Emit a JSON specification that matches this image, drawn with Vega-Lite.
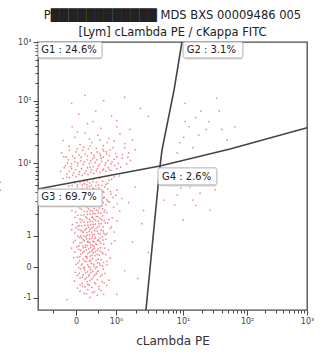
{
  "$schema": "https://vega.github.io/schema/vega-lite/v6.json",
  "width": 269,
  "height": 268,
  "autosize": {"type": "none"},
  "padding": {"left": 38, "top": 42, "right": 16, "bottom": 48},
  "background": "white",
  "config": {"font": "DejaVu Sans", "view": {"stroke": "#4a4a4a", "strokeWidth": 1.3}},
  "title": {"text": ["P████████████ MDS BXS 00009486 005", "[Lym] cLambda PE / cKappa FITC"], "fontSize": 11.5, "fontWeight": "normal", "color": "#222", "lineHeight": 17, "offset": 0, "anchor": "middle", "font": "DejaVu Sans"},
  "datasets": {
    "events": [
      {"x":198,"y":48},{"x":226,"y":56},{"x":176,"y":64},{"x":215,"y":70},{"x":240,"y":74},{"x":190,"y":78},{"x":160,"y":72},{"x":250,"y":60},
      {"x":150,"y":84},{"x":178,"y":88},{"x":205,"y":86},{"x":232,"y":90},{"x":262,"y":94},{"x":190,"y":98},{"x":168,"y":102},{"x":215,"y":104},{"x":244,"y":108},{"x":139,"y":110},{"x":198,"y":112},{"x":226,"y":116},{"x":180,"y":118},{"x":270,"y":114},
      {"x":160,"y":122},{"x":185,"y":124},{"x":210,"y":126},{"x":238,"y":128},{"x":150,"y":132},{"x":172,"y":134},{"x":196,"y":136},{"x":222,"y":138},{"x":255,"y":140},{"x":142,"y":144},{"x":188,"y":146},{"x":208,"y":148},{"x":230,"y":150},{"x":178,"y":152},{"x":200,"y":154},{"x":248,"y":156},{"x":162,"y":158},{"x":219,"y":160},
      {"x":155,"y":162},{"x":176,"y":164},{"x":192,"y":166},{"x":214,"y":168},{"x":236,"y":170},{"x":262,"y":172},{"x":145,"y":174},{"x":168,"y":176},{"x":203,"y":178},{"x":227,"y":180},{"x":250,"y":182},{"x":184,"y":184},{"x":196,"y":186},{"x":158,"y":188},{"x":221,"y":190},{"x":240,"y":192},{"x":172,"y":194},{"x":208,"y":196},{"x":275,"y":198},{"x":136,"y":200},
      {"x":150,"y":202},{"x":181,"y":204},{"x":199,"y":206},{"x":217,"y":208},{"x":233,"y":210},{"x":258,"y":212},{"x":163,"y":214},{"x":190,"y":216},{"x":210,"y":218},{"x":244,"y":220},{"x":140,"y":222},{"x":176,"y":224},{"x":205,"y":226},{"x":226,"y":228},{"x":268,"y":230},{"x":155,"y":232},{"x":193,"y":234},{"x":215,"y":236},{"x":238,"y":238},{"x":182,"y":240},{"x":128,"y":236},{"x":201,"y":239},
      {"x":148,"y":242},{"x":170,"y":244},{"x":188,"y":246},{"x":207,"y":248},{"x":224,"y":250},{"x":250,"y":252},{"x":280,"y":254},{"x":160,"y":256},{"x":197,"y":258},{"x":214,"y":260},{"x":235,"y":262},{"x":176,"y":264},{"x":142,"y":266},{"x":229,"y":268},{"x":258,"y":270},{"x":185,"y":272},{"x":203,"y":274},{"x":166,"y":276},{"x":219,"y":278},{"x":245,"y":280},{"x":135,"y":258},{"x":292,"y":264},{"x":190,"y":262},{"x":212,"y":244},
      {"x":152,"y":282},{"x":174,"y":284},{"x":196,"y":286},{"x":215,"y":288},{"x":237,"y":290},{"x":262,"y":292},{"x":140,"y":294},{"x":186,"y":296},{"x":205,"y":298},{"x":226,"y":300},{"x":248,"y":302},{"x":163,"y":304},{"x":180,"y":306},{"x":199,"y":308},{"x":221,"y":310},{"x":275,"y":312},{"x":145,"y":314},{"x":192,"y":316},{"x":210,"y":318},{"x":233,"y":320},{"x":170,"y":300},{"x":256,"y":288},{"x":128,"y":306},{"x":290,"y":298},
      {"x":157,"y":322},{"x":178,"y":324},{"x":200,"y":326},{"x":218,"y":328},{"x":240,"y":330},{"x":265,"y":332},{"x":148,"y":334},{"x":189,"y":336},{"x":208,"y":338},{"x":229,"y":340},{"x":252,"y":342},{"x":169,"y":344},{"x":196,"y":346},{"x":213,"y":348},{"x":236,"y":350},{"x":283,"y":352},{"x":140,"y":354},{"x":182,"y":356},{"x":222,"y":358},{"x":246,"y":360},{"x":162,"y":336},{"x":301,"y":340},{"x":205,"y":355},{"x":131,"y":326},
      {"x":152,"y":362},{"x":175,"y":364},{"x":198,"y":366},{"x":217,"y":368},{"x":239,"y":370},{"x":262,"y":372},{"x":143,"y":374},{"x":187,"y":376},{"x":208,"y":378},{"x":228,"y":380},{"x":255,"y":382},{"x":166,"y":384},{"x":193,"y":386},{"x":214,"y":388},{"x":234,"y":390},{"x":288,"y":392},{"x":157,"y":394},{"x":202,"y":396},{"x":244,"y":398},{"x":178,"y":400},{"x":129,"y":380},{"x":311,"y":378},
      {"x":161,"y":402},{"x":184,"y":404},{"x":205,"y":406},{"x":224,"y":408},{"x":248,"y":410},{"x":272,"y":412},{"x":146,"y":414},{"x":195,"y":416},{"x":216,"y":418},{"x":238,"y":420},{"x":262,"y":422},{"x":174,"y":424},{"x":200,"y":426},{"x":228,"y":428},{"x":252,"y":430},{"x":135,"y":432},{"x":188,"y":434},{"x":212,"y":436},{"x":296,"y":438},{"x":166,"y":440},{"x":242,"y":416},{"x":320,"y":426},
      {"x":156,"y":442},{"x":182,"y":444},{"x":204,"y":446},{"x":226,"y":448},{"x":250,"y":450},{"x":276,"y":452},{"x":142,"y":454},{"x":194,"y":456},{"x":218,"y":458},{"x":240,"y":460},{"x":265,"y":462},{"x":170,"y":464},{"x":209,"y":466},{"x":232,"y":468},{"x":300,"y":458},{"x":128,"y":448},{"x":188,"y":470},{"x":254,"y":470},
      {"x":150,"y":478},{"x":176,"y":482},{"x":198,"y":486},{"x":222,"y":488},{"x":246,"y":492},{"x":270,"y":496},{"x":160,"y":488},{"x":188,"y":492},{"x":212,"y":500},{"x":235,"y":504},{"x":290,"y":508},{"x":140,"y":486},{"x":204,"y":476},{"x":258,"y":480},{"x":118,"y":474},{"x":230,"y":478},{"x":175,"y":490},{"x":310,"y":512},
      {"x":330,"y":150},{"x":360,"y":260},{"x":395,"y":330},{"x":345,"y":410},{"x":420,"y":220},{"x":380,"y":120},{"x":110,"y":40},{"x":300,"y":60},{"x":370,"y":470},{"x":402,"y":380},
      {"x":185,"y":62},{"x":208,"y":66},{"x":232,"y":80},{"x":170,"y":92},{"x":195,"y":95},{"x":220,"y":100},{"x":252,"y":104},{"x":160,"y":96},{"x":204,"y":118},{"x":187,"y":108},
      {"x":168,"y":126},{"x":193,"y":130},{"x":216,"y":133},{"x":244,"y":135},{"x":157,"y":140},{"x":181,"y":142},{"x":202,"y":144},{"x":226,"y":146},{"x":175,"y":160},{"x":198,"y":163},{"x":224,"y":165},{"x":246,"y":168},{"x":165,"y":171},{"x":189,"y":173},{"x":212,"y":175},{"x":235,"y":177},{"x":152,"y":180},{"x":177,"y":187},{"x":200,"y":190},{"x":229,"y":194},{"x":262,"y":186},{"x":186,"y":198},
      {"x":159,"y":203},{"x":186,"y":205},{"x":206,"y":209},{"x":226,"y":212},{"x":247,"y":215},{"x":170,"y":218},{"x":197,"y":221},{"x":218,"y":223},{"x":236,"y":225},{"x":162,"y":228},{"x":184,"y":230},{"x":209,"y":232},{"x":230,"y":234},{"x":253,"y":236},{"x":174,"y":238},{"x":156,"y":245},{"x":180,"y":248},{"x":200,"y":250},{"x":220,"y":252},{"x":240,"y":255},{"x":167,"y":258},{"x":190,"y":260},{"x":209,"y":263},{"x":227,"y":265},{"x":248,"y":267},{"x":173,"y":269},{"x":196,"y":271},{"x":216,"y":273},{"x":236,"y":275},{"x":158,"y":277},{"x":182,"y":279},{"x":207,"y":281},
      {"x":163,"y":283},{"x":186,"y":286},{"x":208,"y":289},{"x":230,"y":292},{"x":250,"y":294},{"x":172,"y":297},{"x":195,"y":300},{"x":216,"y":303},{"x":240,"y":305},{"x":155,"y":308},{"x":184,"y":311},{"x":204,"y":313},{"x":226,"y":316},{"x":248,"y":318},{"x":166,"y":321},{"x":190,"y":324},{"x":210,"y":327},{"x":232,"y":330},{"x":256,"y":333},{"x":176,"y":336},{"x":198,"y":339},{"x":219,"y":342},{"x":242,"y":345},{"x":160,"y":348},{"x":186,"y":351},{"x":207,"y":354},{"x":228,"y":357},{"x":270,"y":346},{"x":150,"y":320},{"x":280,"y":318},
      {"x":165,"y":362},{"x":188,"y":365},{"x":210,"y":368},{"x":230,"y":371},{"x":252,"y":374},{"x":176,"y":377},{"x":199,"y":380},{"x":222,"y":383},{"x":246,"y":386},{"x":160,"y":389},{"x":186,"y":392},{"x":208,"y":395},{"x":230,"y":398},{"x":258,"y":401},{"x":172,"y":404},{"x":195,"y":407},{"x":218,"y":410},{"x":240,"y":413},{"x":266,"y":416},{"x":180,"y":419},{"x":204,"y":422},{"x":226,"y":425},{"x":250,"y":428},{"x":163,"y":431},{"x":190,"y":434},{"x":214,"y":437},{"x":236,"y":440},{"x":278,"y":443},{"x":176,"y":446},{"x":200,"y":449},{"x":222,"y":452},{"x":246,"y":455},{"x":160,"y":458},{"x":186,"y":461},{"x":212,"y":464},{"x":286,"y":430},{"x":150,"y":400},{"x":302,"y":405},
      {"x":196,"y":472},{"x":220,"y":474},{"x":244,"y":476},{"x":168,"y":478},{"x":265,"y":484},{"x":186,"y":480},{"x":210,"y":490},{"x":150,"y":470},{"x":280,"y":500},{"x":130,"y":476},
      {"x":95,"y":502},{"x":120,"y":506},{"x":145,"y":510},{"x":168,"y":514},{"x":190,"y":518},{"x":212,"y":522},{"x":236,"y":526},{"x":258,"y":530},{"x":280,"y":534},{"x":110,"y":520},{"x":135,"y":524},{"x":158,"y":528},{"x":182,"y":532},{"x":204,"y":536},{"x":226,"y":540},{"x":250,"y":538},{"x":272,"y":536},{"x":300,"y":540},{"x":128,"y":540},{"x":86,"y":530},
      {"x":100,"y":544},{"x":125,"y":548},{"x":150,"y":552},{"x":172,"y":556},{"x":196,"y":560},{"x":218,"y":564},{"x":242,"y":568},{"x":266,"y":572},{"x":290,"y":576},{"x":315,"y":546},{"x":338,"y":558},{"x":140,"y":566},{"x":163,"y":570},{"x":186,"y":574},{"x":208,"y":578},{"x":230,"y":550},{"x":255,"y":554},{"x":278,"y":558},{"x":112,"y":562},{"x":352,"y":572},{"x":198,"y":546},{"x":240,"y":580},
      {"x":108,"y":584},{"x":132,"y":588},{"x":156,"y":592},{"x":180,"y":596},{"x":203,"y":600},{"x":226,"y":604},{"x":250,"y":608},{"x":275,"y":612},{"x":300,"y":586},{"x":322,"y":594},{"x":145,"y":604},{"x":170,"y":610},{"x":192,"y":616},{"x":215,"y":584},{"x":238,"y":590},{"x":262,"y":596},{"x":286,"y":620},{"x":90,"y":600},{"x":345,"y":600},{"x":370,"y":612},
      {"x":110,"y":508},{"x":132,"y":514},{"x":156,"y":518},{"x":178,"y":522},{"x":200,"y":526},{"x":222,"y":532},{"x":246,"y":534},{"x":268,"y":544},{"x":292,"y":552},{"x":118,"y":530},{"x":142,"y":536},{"x":166,"y":540},{"x":188,"y":544},{"x":210,"y":548},{"x":234,"y":556},{"x":258,"y":562},{"x":282,"y":566},{"x":306,"y":560},{"x":104,"y":552},{"x":128,"y":558},{"x":152,"y":562},{"x":176,"y":566},{"x":200,"y":570},{"x":224,"y":574},{"x":248,"y":584},{"x":272,"y":590},{"x":296,"y":598},{"x":320,"y":580},{"x":116,"y":574},{"x":140,"y":580},{"x":164,"y":584},{"x":188,"y":588},{"x":212,"y":592},{"x":236,"y":598},{"x":260,"y":604},{"x":150,"y":616},{"x":174,"y":622},{"x":198,"y":626},{"x":222,"y":618},{"x":246,"y":614},{"x":330,"y":620},{"x":120,"y":610},{"x":98,"y":586},{"x":342,"y":584},{"x":264,"y":640},{"x":196,"y":654},{"x":236,"y":650},{"x":150,"y":680},{"x":300,"y":700},{"x":210,"y":720},
      {"x":118,"y":626},{"x":160,"y":632},{"x":205,"y":640},{"x":248,"y":628},{"x":290,"y":646},{"x":330,"y":636},{"x":140,"y":660},{"x":228,"y":668},{"x":270,"y":656},{"x":360,"y":650},{"x":180,"y":676},{"x":95,"y":648},{"x":312,"y":672},
      {"x":130,"y":700},{"x":188,"y":712},{"x":240,"y":694},{"x":300,"y":724},{"x":350,"y":690},{"x":155,"y":748},{"x":220,"y":760},{"x":280,"y":742},{"x":390,"y":770},{"x":128,"y":790},{"x":250,"y":800},{"x":330,"y":812},{"x":178,"y":820},{"x":420,"y":740},
      {"x":540,"y":640},{"x":575,"y":700},{"x":612,"y":668},{"x":650,"y":720},{"x":700,"y":690},{"x":560,"y":790},{"x":620,"y":760},{"x":680,"y":810},{"x":720,"y":650},{"x":590,"y":620},{"x":530,"y":600},
      {"x":555,"y":660},{"x":600,"y":735},{"x":640,"y":690},{"x":690,"y":760},{"x":560,"y":720},{"x":750,"y":700},
      {"x":544,"y":466},{"x":579,"y":470},{"x":617,"y":447},{"x":590,"y":420},{"x":655,"y":382},{"x":552,"y":344},{"x":480,"y":420},{"x":521,"y":401},{"x":674,"y":459},{"x":500,"y":490},{"x":610,"y":520},
      {"x":530,"y":440},{"x":600,"y":400},{"x":640,"y":480}
    ],
    "gates": [
      {"gate":"v","o":1,"x":548,"y":1024},{"gate":"v","o":2,"x":518,"y":841},{"gate":"v","o":3,"x":472,"y":611},{"gate":"v","o":4,"x":464,"y":546},{"gate":"v","o":5,"x":411,"y":0},
      {"gate":"h","o":1,"x":0,"y":462},{"gate":"h","o":2,"x":464,"y":550},{"gate":"h","o":3,"x":731,"y":615},{"gate":"h","o":4,"x":1024,"y":696}
    ],
    "labels": [
      {"label":"G1 : 24.6%","x":0,"x2":244,"y":963,"y2":1024,"tx":12,"ty":993},
      {"label":"G2 : 3.1%","x":552,"x2":780,"y":963,"y2":1024,"tx":566,"ty":993},
      {"label":"G3 : 69.7%","x":0,"x2":244,"y":397,"y2":462,"tx":12,"ty":430},
      {"label":"G4 : 2.6%","x":457,"x2":681,"y":478,"y2":543,"tx":472,"ty":510}
    ]
  },
  "layer": [
    {
      "data": {"name": "events"},
      "mark": {"type": "circle", "size": 3, "color": "#e0283a", "opacity": 0.55},
      "encoding": {
        "x": {"field": "x", "type": "quantitative", "scale": {"domain": [0, 1024], "nice": false, "zero": false},
          "axis": {"orient": "bottom", "values": [145, 297, 552, 796, 1024], "labelExpr": "datum.value == 145 ? '0' : datum.value == 297 ? '10⁰' : datum.value == 552 ? '10¹' : datum.value == 796 ? '10²' : '10³'", "tickSize": 5, "tickColor": "#444", "labelFontSize": 8, "labelColor": "#444", "labelPadding": 2, "labelFlush": false, "grid": false, "domain": false, "title": "cLambda PE", "titleFontSize": 12, "titleFontWeight": "normal", "titleColor": "#333", "titlePadding": 10}},
        "y": {"field": "y", "type": "quantitative", "scale": {"domain": [0, 1024], "nice": false, "zero": false},
          "axis": {"orient": "left", "values": [46, 164, 283, 561, 799, 1024], "labelExpr": "datum.value == 46 ? '-1' : datum.value == 164 ? '0' : datum.value == 283 ? '1' : datum.value == 561 ? '10¹' : datum.value == 799 ? '10²' : '10³'", "tickSize": 5, "tickColor": "#444", "labelFontSize": 8, "labelColor": "#444", "labelPadding": 2, "labelFlush": false, "grid": false, "domain": false, "title": "cKappa FITC", "titleFontSize": 12, "titleFontWeight": "normal", "titleColor": "#999", "titleX": -38, "titleY": 134}}
      }
    },
    {
      "data": {"name": "gates"},
      "mark": {"type": "line", "color": "#444", "strokeWidth": 1.6},
      "encoding": {
        "x": {"field": "x", "type": "quantitative", "axis": {"orient": "bottom", "values": [57, 228, 374, 419, 450, 475, 495, 512, 527, 540, 625, 668, 699, 722, 742, 758, 772, 785, 865, 905, 933, 955, 973, 989, 1002, 1014], "labels": false, "tickSize": 3, "tickColor": "#444", "grid": false, "domain": false, "title": null}},
        "y": {"field": "y", "type": "quantitative", "axis": {"orient": "left", "values": [867, 906, 934, 956, 974, 989, 1002, 1014, 632, 674, 704, 727, 746, 762, 776, 788, 366, 415, 450, 477, 499, 517, 533, 548], "labels": false, "tickSize": 3, "tickColor": "#444", "grid": false, "domain": false, "title": null}},
        "detail": {"field": "gate"},
        "order": {"field": "o"}
      }
    },
    {
      "data": {"name": "labels"},
      "mark": {"type": "rect", "fill": "#d8d8d8", "cornerRadius": 2, "xOffset": 1.5, "yOffset": 1.5},
      "encoding": {
        "x": {"field": "x", "type": "quantitative", "axis": null},
        "x2": {"field": "x2"},
        "y": {"field": "y", "type": "quantitative", "axis": null},
        "y2": {"field": "y2"}
      }
    },
    {
      "data": {"name": "labels"},
      "mark": {"type": "rect", "fill": "white", "stroke": "#b0b0b0", "strokeWidth": 1, "cornerRadius": 2},
      "encoding": {
        "x": {"field": "x", "type": "quantitative", "axis": null},
        "x2": {"field": "x2"},
        "y": {"field": "y", "type": "quantitative", "axis": null},
        "y2": {"field": "y2"}
      }
    },
    {
      "data": {"name": "labels"},
      "mark": {"type": "text", "align": "left", "baseline": "middle", "fontSize": 10, "color": "#222", "font": "DejaVu Sans"},
      "encoding": {
        "x": {"field": "tx", "type": "quantitative", "axis": null},
        "y": {"field": "ty", "type": "quantitative", "axis": null},
        "text": {"field": "label"}
      }
    }
  ],
  "resolve": {"axis": {"x": "independent", "y": "independent"}}
}
